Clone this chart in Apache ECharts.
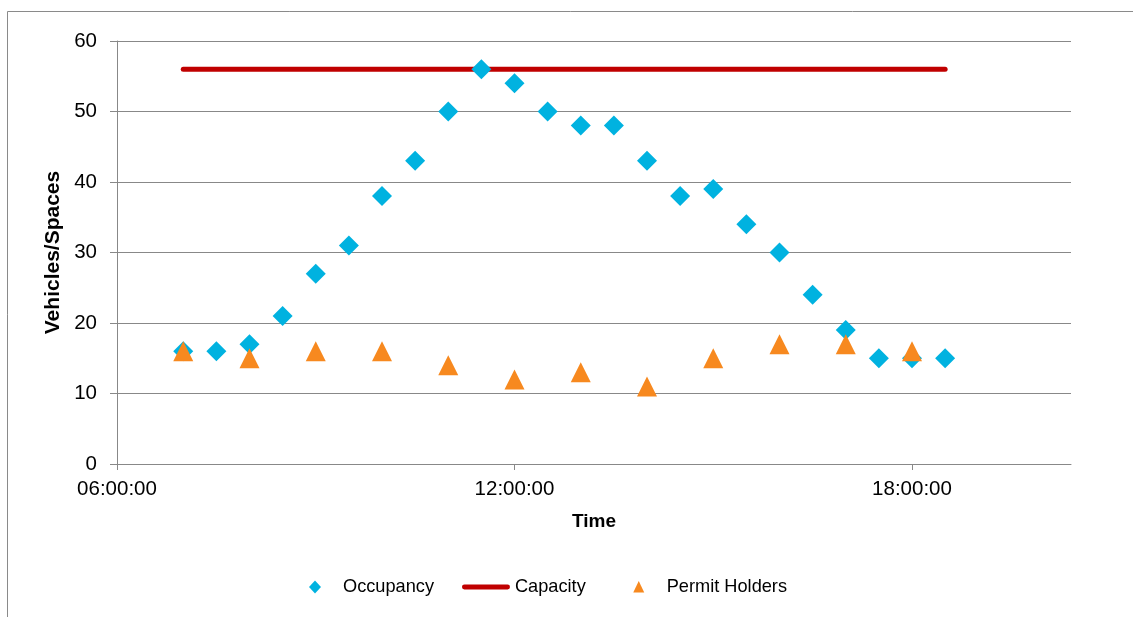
<!DOCTYPE html>
<html>
<head>
<meta charset="utf-8">
<script src="https://cdn.jsdelivr.net/npm/echarts@6/dist/echarts.min.js"></script>
<style>
  html, body { margin: 0; padding: 0; background: #fff; }
  #chart { width: 1133px; height: 617px; }
</style>
</head>
<body>
<div id="chart"></div>
<script>
// ---- Data ----
const occTimes = ['07:00','07:30','08:00','08:30','09:00','09:30','10:00','10:30','11:00','11:30','12:00','12:30',
                  '13:00','13:30','14:00','14:30','15:00','15:30','16:00','16:30','17:00','17:30','18:00','18:30'];
const occupancy = [16,16,17,21,27,31,38,43,50,56,54,50,48,48,43,38,39,34,30,24,19,15,15,15];
const capTimes = ['07:00','18:30'];
const capacity = [56,56];
const permitTimes = ['07:00','08:00','09:00','10:00','11:00','12:00','13:00','14:00','15:00','16:00','17:00','18:00'];
const permitHolders = [16,15,16,16,14,12,13,11,15,17,17,16];
const xTickHours = [6,12,18];

function toHours(s) { const p = s.split(':').map(Number); return p[0] + p[1] / 60; }
function pairs(times, vals) { return times.map((t, i) => [toHours(t), vals[i]]); }
function fmtHour(v) { const h = Math.floor(v); return (h < 10 ? '0' : '') + h + ':00:00'; }

const font = '"Liberation Sans", Arial, sans-serif';
const gridColor = '#888888';

// legend icons in a 48x14 box (corner points keep the box size)
const box = 'M0,0L0,0M48,14L48,14';
const iconDiamond = 'path://' + box + 'M25,0.5L31,7L25,13.5L19,7Z';
const iconLine = 'path://' + box + 'M2.5,4.5L47.5,4.5A2.5,2.5,0,0,1,47.5,9.5L2.5,9.5A2.5,2.5,0,0,1,2.5,4.5Z';
const iconTriangle = 'path://' + box + 'M25,1L30.5,12.5L19.5,12.5Z';

const chart = echarts.init(document.getElementById('chart'), null, { renderer: 'canvas' });
chart.setOption({
  animation: false,
  backgroundColor: '#ffffff',
  textStyle: { fontFamily: font },
  graphic: [{
    type: 'rect', z: -10, silent: true,
    shape: { x: 7.5, y: 11.5, width: 1400, height: 900 },
    style: { fill: 'none', stroke: '#8a8a8a', lineWidth: 1 }
  }],
  grid: { left: 117, right: 62, top: 41, bottom: 153, containLabel: false },
  legend: {
    left: 290, top: 578, padding: 0,
    itemWidth: 48, itemHeight: 14, itemGap: 28,
    textStyle: { fontSize: 18.2, color: '#000', fontFamily: font },
    data: [
      { name: 'Occupancy', icon: iconDiamond },
      { name: 'Capacity', icon: iconLine },
      { name: 'Permit Holders', icon: iconTriangle }
    ]
  },
  xAxis: {
    type: 'value', min: 6, max: 20.4, interval: 6,
    name: 'Time', nameLocation: 'middle', nameGap: 48,
    nameTextStyle: { fontSize: 19, fontWeight: 'bold', color: '#000', fontFamily: font },
    axisLine: { show: true, lineStyle: { color: gridColor, width: 1 } },
    axisTick: { show: true, length: 6, lineStyle: { color: gridColor }, customValues: xTickHours },
    axisLabel: { fontSize: 20.5, color: '#000', margin: 15, formatter: fmtHour, customValues: xTickHours, fontFamily: font },
    splitLine: { show: false }
  },
  yAxis: {
    type: 'value', min: 0, max: 60, interval: 10,
    name: 'Vehicles/Spaces', nameLocation: 'middle', nameGap: 51,
    nameTextStyle: { fontSize: 21, fontWeight: 'bold', color: '#000', fontFamily: font },
    axisLine: { show: true, lineStyle: { color: gridColor, width: 1 } },
    axisTick: { show: true, length: 7, lineStyle: { color: gridColor } },
    axisLabel: { fontSize: 20.5, color: '#000', margin: 20, fontFamily: font },
    splitLine: { show: true, lineStyle: { color: gridColor, width: 1 } }
  },
  series: [
    {
      name: 'Capacity', type: 'line', z: 2,
      data: pairs(capTimes, capacity),
      symbol: 'none', showSymbol: false,
      lineStyle: { color: '#C00000', width: 5, cap: 'round' },
      itemStyle: { color: '#C00000' }
    },
    {
      name: 'Occupancy', type: 'scatter', z: 3,
      data: pairs(occTimes, occupancy),
      symbol: 'diamond', symbolSize: 20,
      itemStyle: { color: '#00B2E0', opacity: 1 }
    },
    {
      name: 'Permit Holders', type: 'scatter', z: 4,
      data: pairs(permitTimes, permitHolders),
      symbol: 'triangle', symbolSize: 20,
      itemStyle: { color: '#F7891F', opacity: 1 }
    }
  ]
});
</script>
</body>
</html>
